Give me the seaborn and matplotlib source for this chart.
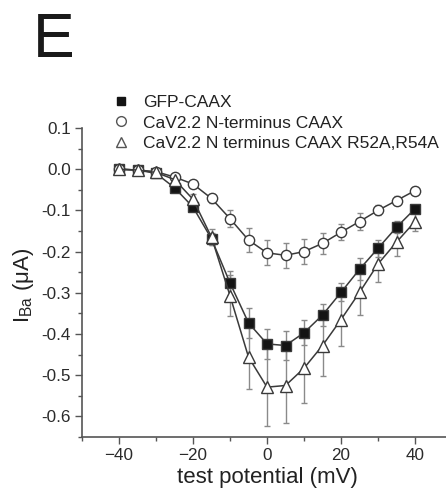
import numpy as np
import pandas as pd
import matplotlib
matplotlib.use("Agg")
import matplotlib.pyplot as plt
import seaborn as sns
from matplotlib.lines import Line2D

# ---- data ----
voltage = [-40, -35, -30, -25, -20, -15, -10, -5, 0, 5, 10, 15, 20, 25, 30, 35, 40]

gfp_mean = [0.0, -0.002, -0.01, -0.045, -0.092, -0.169, -0.276, -0.373, -0.424,
            -0.428, -0.397, -0.354, -0.299, -0.243, -0.192, -0.141, -0.096]
gfp_err = [0.005, 0.005, 0.005, 0.008, 0.01, 0.015, 0.03, 0.036, 0.036,
           0.035, 0.03, 0.027, 0.022, 0.027, 0.02, 0.015, 0.01]

nterm_mean = [0.0, -0.002, -0.006, -0.019, -0.036, -0.071, -0.12, -0.172, -0.203,
              -0.209, -0.2, -0.18, -0.153, -0.127, -0.1, -0.076, -0.052]
nterm_err = [0.004, 0.004, 0.005, 0.006, 0.008, 0.012, 0.02, 0.03, 0.03,
             0.03, 0.03, 0.025, 0.02, 0.02, 0.012, 0.01, 0.008]

mut_mean = [0.0, -0.002, -0.008, -0.025, -0.073, -0.165, -0.307, -0.456, -0.529,
            -0.525, -0.483, -0.428, -0.365, -0.299, -0.23, -0.177, -0.127]
mut_err = [0.005, 0.005, 0.006, 0.008, 0.012, 0.02, 0.05, 0.078, 0.095,
           0.09, 0.085, 0.074, 0.063, 0.055, 0.044, 0.034, 0.023]

labels = ["GFP-CAAX", "CaV2.2 N-terminus CAAX", "CaV2.2 N terminus CAAX R52A,R54A"]
xticks = [-40, -20, 0, 20, 40]
yticks = [0.1, 0.0, -0.1, -0.2, -0.3, -0.4, -0.5, -0.6]

# ---- style ----
sns.set_style("ticks")
plt.rcParams["font.family"] = ["Liberation Sans", "DejaVu Sans"]
plt.rcParams["mathtext.fontset"] = "custom"
plt.rcParams["mathtext.rm"] = "Liberation Sans"
plt.rcParams["mathtext.it"] = "Liberation Sans:italic"

df = pd.DataFrame({
    "V": voltage * 3,
    "I": gfp_mean + nterm_mean + mut_mean,
    "series": [labels[0]] * len(voltage) + [labels[1]] * len(voltage) + [labels[2]] * len(voltage),
})

fig = plt.figure(figsize=(4.46, 4.93), dpi=100)
ax = fig.add_axes([82 / 446, 1 - 437 / 493, 370 / 446, 309 / 493])

line_col = "#3a3a3a"
err_col = "#8a8a8a"

# error bars
for m, e in [(gfp_mean, gfp_err), (nterm_mean, nterm_err), (mut_mean, mut_err)]:
    ax.errorbar(voltage, m, yerr=e, fmt="none", ecolor=err_col, elinewidth=1.0,
                capsize=2.5, capthick=1.0, zorder=1)

sns.lineplot(data=df, x="V", y="I", hue="series", style="series",
             palette={l: line_col for l in labels},
             markers={labels[0]: "s", labels[1]: "o", labels[2]: "^"},
             dashes=False, legend=False, ax=ax, linewidth=1.1, zorder=2,
             markersize=7.2)

# marker faces / sizes
for ln, face, ms in zip(ax.lines[-3:], ["#141414", "white", "white"], [7.2, 7.4, 9.0]):
    ln.set_markerfacecolor(face)
    ln.set_markeredgecolor(line_col)
    ln.set_markeredgewidth(1.0)
    ln.set_markersize(ms)

ax.set_xlim(-50, 50)
ax.set_ylim(-0.65, 0.1)
ax.set_xticks(xticks)
ax.set_yticks(yticks)
ax.set_yticklabels([f"{v:.1f}" for v in yticks])
ax.set_xticks(np.arange(-50, 51, 10), minor=True)
ax.set_yticks(np.arange(-0.65, 0.101, 0.05), minor=True)
ax.tick_params(axis="both", which="major", direction="out", length=5, width=1.0,
               labelsize=12.3, color="#555555", labelcolor="#2a2a2a", pad=3)
ax.tick_params(axis="both", which="minor", direction="out", length=3, width=1.0,
               color="#555555")
for s in ["top", "right"]:
    ax.spines[s].set_visible(False)
for s in ["left", "bottom"]:
    ax.spines[s].set_color("#555555")
    ax.spines[s].set_linewidth(1.2)

ax.set_xlabel("test potential (mV)", fontsize=16, color="#222222", labelpad=3)
ax.set_ylabel(r"I$_{\mathrm{Ba}}$ (μA)", fontsize=16, color="#222222")
ax.yaxis.set_label_coords(-0.125, 0.49)

# legend
handles = [
    Line2D([], [], linestyle="none", marker="s", markersize=6, markerfacecolor="#141414",
           markeredgecolor="#141414"),
    Line2D([], [], linestyle="none", marker="o", markersize=7, markerfacecolor="white",
           markeredgecolor="#555555"),
    Line2D([], [], linestyle="none", marker="^", markersize=7, markerfacecolor="white",
           markeredgecolor="#555555"),
]
fig.legend(handles, labels, loc="upper left", bbox_to_anchor=(104 / 446, 1 - 86 / 493),
           frameon=False, fontsize=12.5, handlelength=1.0, handletextpad=0.75,
           labelspacing=0.32, borderpad=0, labelcolor="#222222")

fig.text(33 / 446, 1 - 57 / 493, "E", fontsize=45, color="#1a1a1a", ha="left", va="baseline")

fig.savefig("out.png", dpi=100)
